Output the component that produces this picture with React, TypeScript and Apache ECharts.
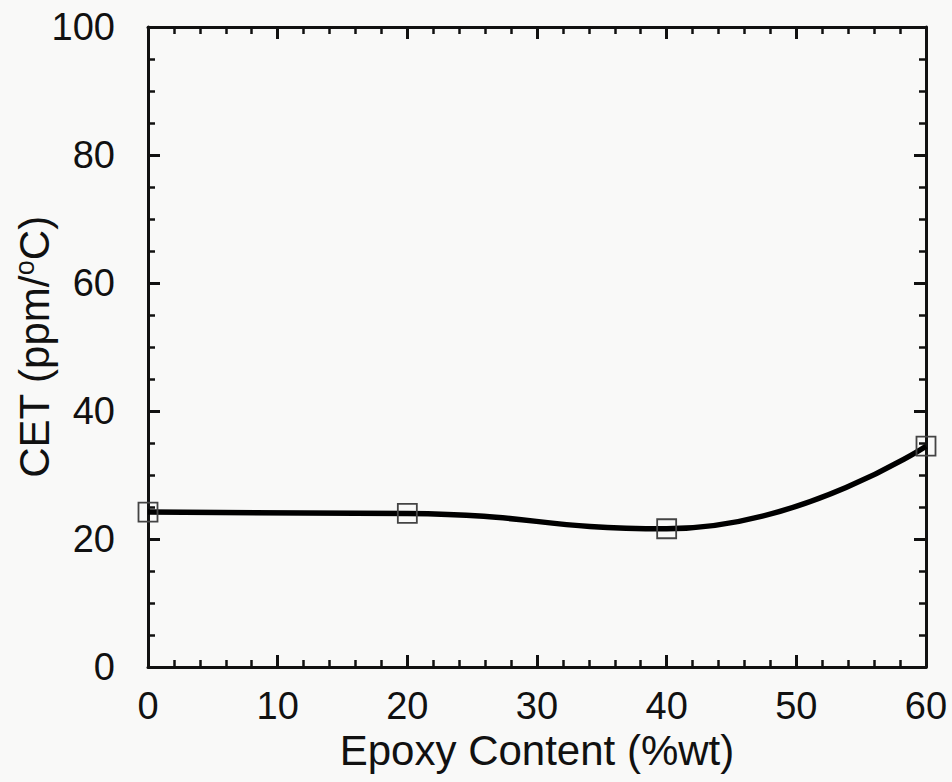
import React, { useEffect, useRef } from "react";
import * as echarts from "echarts";

const epoxyContent = [0, 20, 40, 60];
const cetValues = [24.2, 24.0, 21.6, 34.5];
const xTicks = [0, 10, 20, 30, 40, 50, 60];
const yTicks = [0, 20, 40, 60, 80, 100];

const FONT = "'Liberation Sans', Arial, Helvetica, sans-serif";

export default function App() {
  const ref = useRef<HTMLDivElement>(null);
  useEffect(() => {
    document.body.style.margin = "0";
    const chart = echarts.init(ref.current!, null, { renderer: "svg" });
    const axisLine = { show: true, onZero: false, lineStyle: { color: "#111", width: 3 } };
    const tick = { show: true, inside: true, length: 12, lineStyle: { color: "#111", width: 3 } };
    const minor = (n: number) => ({ show: true, splitNumber: n, length: 7, lineStyle: { color: "#111", width: 2.5 } });
    const xBase = {
      type: "value",
      min: xTicks[0],
      max: xTicks[xTicks.length - 1],
      interval: 10,
      axisLine,
      axisTick: tick,
      minorTick: minor(5),
      splitLine: { show: false },
    };
    const yBase = {
      type: "value",
      min: yTicks[0],
      max: yTicks[yTicks.length - 1],
      interval: 20,
      axisLine,
      axisTick: tick,
      minorTick: minor(4),
      splitLine: { show: false },
    };
    chart.setOption({
      animation: false,
      backgroundColor: "#f9f9f8",
      grid: { left: 148, right: 26, top: 27, bottom: 115, containLabel: false, outerBoundsMode: "none" },
      graphic: [
        {
          type: "text",
          x: 34,
          y: 347,
          rotation: Math.PI / 2,
          style: {
            text: "{a|CET (ppm/}{b|o}{a|C)}",
            align: "center",
            verticalAlign: "middle",
            rich: {
              a: { fontFamily: FONT, fontSize: 42, fill: "#111", lineHeight: 46 },
              b: { fontFamily: FONT, fontSize: 27, fill: "#111", verticalAlign: "top", lineHeight: 46, padding: [0, 0, 16, 0] },
            },
          },
        },
      ],
      xAxis: [
        {
          ...xBase,
          position: "bottom",
          name: "Epoxy Content (%wt)",
          nameLocation: "middle",
          nameGap: 58,
          nameTextStyle: { fontFamily: FONT, fontSize: 42, color: "#111" },
          axisLabel: { fontFamily: FONT, fontSize: 38, color: "#111", margin: 20 },
        },
        { ...xBase, position: "top", axisLabel: { show: false } },
      ],
      yAxis: [
        {
          ...yBase,
          position: "left",
          axisLabel: { fontFamily: FONT, fontSize: 38, color: "#111", margin: 33 },
        },
        { ...yBase, position: "right", axisLabel: { show: false } },
      ],
      series: [
        {
          type: "line",
          data: epoxyContent.map((x, i) => [x, cetValues[i]]),
          smooth: 0.5,
          clip: false,
          lineStyle: { color: "#000", width: 5.5 },
          symbol: "rect",
          symbolSize: 19,
          itemStyle: { color: "rgba(0,0,0,0)", borderColor: "#444", borderWidth: 1.8 },
          z: 5,
        },
      ],
    });
    return () => chart.dispose();
  }, []);
  return <div ref={ref} style={{ position: "absolute", left: 0, top: 0, width: 952, height: 782 }} />;
}
